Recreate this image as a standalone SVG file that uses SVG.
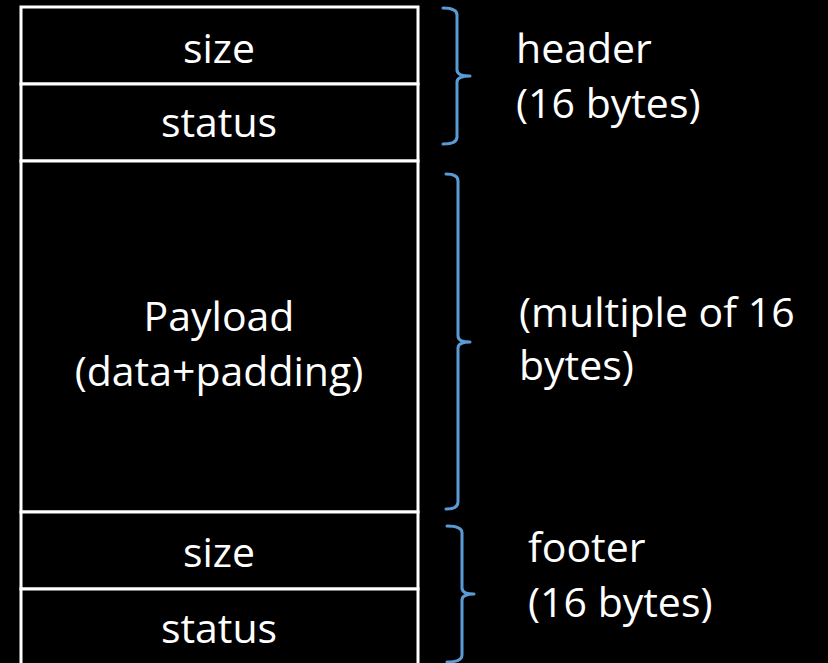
<svg xmlns="http://www.w3.org/2000/svg" width="828" height="663" viewBox="0 0 828 663">
  <style>
    .cell { fill: #000000; stroke: #ffffff; stroke-width: 3; }
    .lbl { fill: #ffffff; font-family: "Open Sans", "Noto Sans", "Liberation Sans", sans-serif; font-size: 41px; }
    .mid { text-anchor: middle; }
    .brace { fill: none; stroke: #5b9bd5; stroke-width: 3; stroke-linecap: round; stroke-linejoin: round; }
  </style>
  <rect x="0" y="0" width="828" height="663" fill="#000000"/>

  <!-- memory block layout -->
  <g id="header-size">
    <rect class="cell" x="21" y="7" width="397" height="77"/>
    <text class="lbl mid" x="219" y="63">size</text>
  </g>
  <g id="header-status">
    <rect class="cell" x="21" y="84" width="397" height="77"/>
    <text class="lbl mid" x="219" y="137">status</text>
  </g>
  <g id="payload">
    <rect class="cell" x="21" y="161" width="397" height="351"/>
    <text class="lbl mid" x="219" y="331">Payload</text>
    <text class="lbl mid" x="219" y="386">(data+padding)</text>
  </g>
  <g id="footer-size">
    <rect class="cell" x="21" y="512" width="397" height="77"/>
    <text class="lbl mid" x="219" y="567">size</text>
  </g>
  <g id="footer-status">
    <rect class="cell" x="21" y="589" width="397" height="80"/>
    <text class="lbl mid" x="219" y="643">status</text>
  </g>

  <!-- braces grouping the regions -->
  <g id="connectors">
    <path class="brace" d="M443,8 Q457,8 457,15 L457,70 Q457,76 470,76 Q457,76 457,82 L457,137 Q457,144 443,144"/>
    <path class="brace" d="M446,174 Q458,174 458,181 L458,336 Q458,342 470,342 Q458,342 458,348 L458,502 Q458,509 446,509"/>
    <path class="brace" d="M447,526 Q462,526 462,533 L462,588 Q462,594 474,594 Q462,594 462,600 L462,655 Q462,662 447,662"/>
  </g>

  <!-- region annotations -->
  <g id="header-note">
    <text class="lbl" x="516" y="63">header</text>
    <text class="lbl" x="516" y="118">(16 bytes)</text>
  </g>
  <g id="payload-note">
    <text class="lbl" x="519" y="327">(multiple of 16</text>
    <text class="lbl" x="519" y="380">bytes)</text>
  </g>
  <g id="footer-note">
    <text class="lbl" x="528" y="562">footer</text>
    <text class="lbl" x="528" y="617">(16 bytes)</text>
  </g>
</svg>
